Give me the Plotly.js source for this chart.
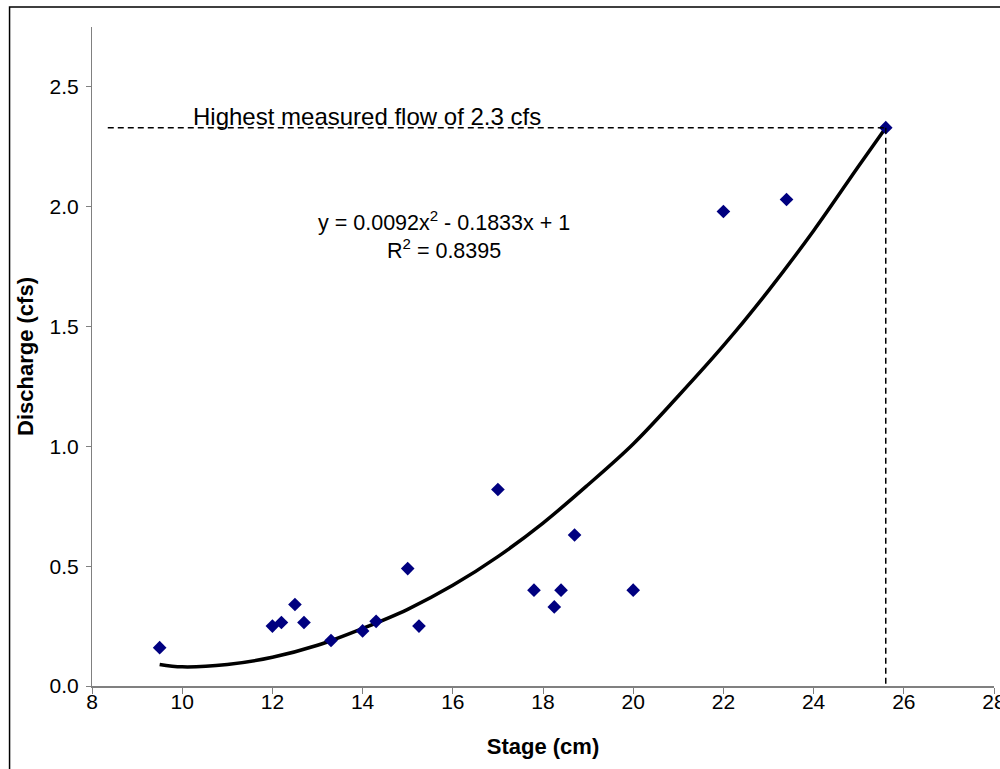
<!DOCTYPE html>
<html>
<head>
<meta charset="utf-8">
<script src="https://cdn.plot.ly/plotly-3.0.1.min.js"></script>
<style>
  html, body { margin: 0; padding: 0; background: #ffffff; }
  #chart { width: 1000px; height: 769px; }
</style>
</head>
<body>
<div id="chart"></div>
<script>
// Measured points: stage (cm) vs discharge (cfs)
const stageCm = [9.5, 12.0, 12.2, 12.5, 12.7, 13.3, 14.0, 14.3, 15.0, 15.25, 17.0, 17.8, 18.25, 18.4, 18.7, 20.0, 22.0, 23.4, 25.6];
const dischargeCfs = [0.16, 0.25, 0.265, 0.34, 0.265, 0.19, 0.23, 0.27, 0.49, 0.25, 0.82, 0.40, 0.33, 0.40, 0.63, 0.40, 1.98, 2.03, 2.33];

// Trend line
const trendStage = [9.5, 10, 11, 12, 13, 14, 15, 16, 17, 18, 19, 20, 21, 22, 23, 24, 25, 25.6];
const trendDischarge = [0.09, 0.08, 0.09, 0.12, 0.17, 0.24, 0.32, 0.42, 0.54, 0.68, 0.84, 1.01, 1.21, 1.42, 1.65, 1.90, 2.17, 2.33];

// Highest measured flow reference
const maxStage = [25.6];
const maxFlow = [2.33];

const yTicks = [0, 0.5, 1.0, 1.5, 2.0, 2.5];
const xTicks = [8, 10, 12, 14, 16, 18, 20, 22, 24, 26, 28];

const FONT = "'Liberation Sans', Arial, sans-serif";

const traces = [
  {
    x: trendStage, y: trendDischarge, type: 'scatter', mode: 'lines',
    line: { color: '#000000', width: 3.5, shape: 'spline' },
    hoverinfo: 'skip', showlegend: false
  },
  {
    x: stageCm, y: dischargeCfs, type: 'scatter', mode: 'markers',
    marker: { symbol: 'diamond', color: '#000080', size: 10.5 },
    showlegend: false
  }
];

const layout = {
  width: 1000, height: 769,
  margin: { l: 91.5, r: 5.5, t: 27, b: 83 },
  paper_bgcolor: '#ffffff', plot_bgcolor: '#ffffff',
  font: { family: FONT, color: '#000000', size: 21 },
  showlegend: false,
  xaxis: {
    range: [8, 28], tickvals: xTicks, ticktext: xTicks.map(String),
    showgrid: false, zeroline: false, showline: true,
    linecolor: '#808080', linewidth: 2,
    ticks: 'outside', ticklen: 6, tickcolor: '#808080', tickwidth: 1,
    ticklabeloverflow: 'allow', ticklabelstandoff: -10,
    tickfont: { family: FONT, size: 21, color: '#000000' },
    title: { text: '<b>Stage (cm)</b>', font: { family: FONT, size: 22, color: '#000000' }, standoff: 26 }
  },
  yaxis: {
    range: [0, 2.75], tickvals: yTicks, ticktext: yTicks.map(v => v.toFixed(1)),
    showgrid: false, zeroline: false, showline: true,
    linecolor: '#808080', linewidth: 1,
    ticks: 'outside', ticklen: 5, tickcolor: '#808080', tickwidth: 1,
    ticklabelstandoff: 3,
    tickfont: { family: FONT, size: 21, color: '#000000' },
    title: { text: '<b>Discharge (cfs)</b>', font: { family: FONT, size: 22, color: '#000000' }, standoff: 9 }
  },
  shapes: [
    // outer chart frame
    { type: 'rect', xref: 'paper', yref: 'paper',
      x0: -0.0914, x1: 1.2, y0: -0.3, y1: 1.0303,
      line: { color: '#000000', width: 1.5 }, fillcolor: 'rgba(0,0,0,0)', layer: 'below' },
    // horizontal dashed line to the highest flow
    { type: 'line', xref: 'x', yref: 'y',
      x0: 8.35, x1: maxStage[0], y0: maxFlow[0], y1: maxFlow[0],
      line: { color: '#000000', width: 1.5, dash: '6px,4px' } },
    // vertical dashed line down from the highest flow
    { type: 'line', xref: 'x', yref: 'y',
      x0: maxStage[0], x1: maxStage[0], y0: maxFlow[0], y1: 0,
      line: { color: '#000000', width: 1.5, dash: '6px,4px' } }
  ],
  annotations: [
    { x: 14.1, y: 2.375, xref: 'x', yref: 'y', showarrow: false,
      text: 'Highest measured flow of 2.3 cfs',
      font: { family: FONT, size: 24, color: '#000000' }, xanchor: 'center', yanchor: 'middle' },
    { x: 15.8, y: 1.88, xref: 'x', yref: 'y', showarrow: false,
      text: 'y = 0.0092x<sup>2</sup> - 0.1833x + 1<br>R<sup>2</sup> = 0.8395',
      font: { family: FONT, size: 21.5, color: '#000000' }, align: 'center',
      xanchor: 'center', yanchor: 'middle' }
  ]
};

Plotly.newPlot('chart', traces, layout, { staticPlot: true, displayModeBar: false });
</script>
</body>
</html>
